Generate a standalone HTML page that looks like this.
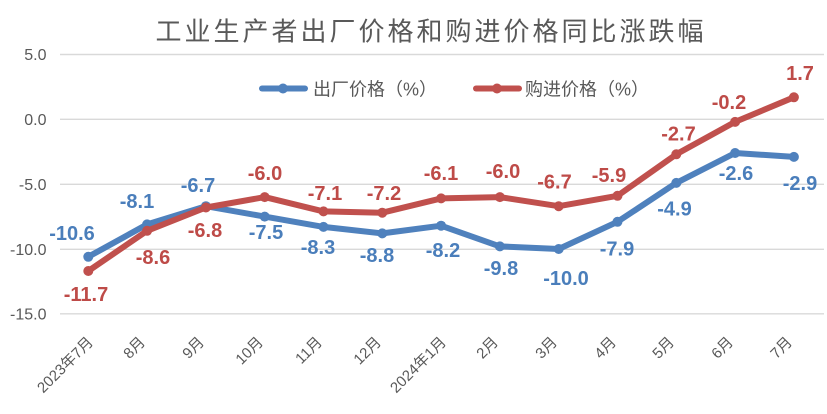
<!DOCTYPE html>
<html>
<head>
<meta charset="utf-8">
<style>
  html, body { margin:0; padding:0; background:#ffffff; }
  body { width:827px; height:414px; overflow:hidden; }
  svg { display:block; }
  .cjk { font-family:"Liberation Sans","Noto Sans CJK SC",sans-serif; }
  .ytick { font-family:"Liberation Sans",sans-serif; font-size:16px; fill:#595959; }
  .xtick { font-family:"Liberation Sans","Noto Sans CJK SC",sans-serif; font-size:15px; fill:#595959; }
  .lb { font-family:"Liberation Sans",sans-serif; font-size:20px; font-weight:bold; text-anchor:middle; }
  .lbb { fill:#4A7EBB; }
  .lbr { fill:#BE4B48; }
</style>
</head>
<body>
<svg width="827" height="414" viewBox="0 0 827 414" xmlns="http://www.w3.org/2000/svg">
  <rect x="0" y="0" width="827" height="414" fill="#ffffff"/>

  <!-- Title -->
  <text x="431" y="40.5" text-anchor="middle" class="cjk" font-size="26" letter-spacing="3" fill="#595959">工业生产者出厂价格和购进价格同比涨跌幅</text>

  <!-- Gridlines -->
  <g stroke="#D9D9D9" stroke-width="1.4">
    <line x1="60" y1="54.5" x2="824" y2="54.5"/>
    <line x1="60" y1="119.3" x2="824" y2="119.3"/>
    <line x1="60" y1="184.3" x2="824" y2="184.3"/>
    <line x1="60" y1="249.3" x2="824" y2="249.3"/>
    <line x1="60" y1="313.8" x2="824" y2="313.8"/>
  </g>

  <!-- Y tick labels -->
  <g class="ytick" text-anchor="end">
    <text x="46.5" y="60">5.0</text>
    <text x="46.5" y="125">0.0</text>
    <text x="46.5" y="190">-5.0</text>
    <text x="46.5" y="255">-10.0</text>
    <text x="46.5" y="319.5">-15.0</text>
  </g>

  <!-- X tick labels -->
  <g class="xtick" text-anchor="end">
    <text transform="translate(94,343) rotate(-45)">2023年7月</text>
    <text transform="translate(146,343) rotate(-45)">8月</text>
    <text transform="translate(205,343) rotate(-45)">9月</text>
    <text transform="translate(264,343) rotate(-45)">10月</text>
    <text transform="translate(323,343) rotate(-45)">11月</text>
    <text transform="translate(382,343) rotate(-45)">12月</text>
    <text transform="translate(447,343) rotate(-45)">2024年1月</text>
    <text transform="translate(499,343) rotate(-45)">2月</text>
    <text transform="translate(558,343) rotate(-45)">3月</text>
    <text transform="translate(617,343) rotate(-45)">4月</text>
    <text transform="translate(675,343) rotate(-45)">5月</text>
    <text transform="translate(734,343) rotate(-45)">6月</text>
    <text transform="translate(793,343) rotate(-45)">7月</text>
  </g>

  <!-- Legend -->
  <line x1="262" y1="88.5" x2="305" y2="88.5" stroke="#4F81BD" stroke-width="6" stroke-linecap="round"/>
  <circle cx="283" cy="88.5" r="5" fill="#4F81BD"/>
  <text x="313" y="95.5" class="cjk" font-size="18" fill="#595959">出厂价格（%）</text>

  <line x1="476" y1="88.5" x2="519" y2="88.5" stroke="#C0504D" stroke-width="6" stroke-linecap="round"/>
  <circle cx="497" cy="88.5" r="5" fill="#C0504D"/>
  <text x="525" y="95.5" class="cjk" font-size="18" fill="#595959">购进价格（%）</text>

  <!-- Blue series -->
  <polyline fill="none" stroke="#4F81BD" stroke-width="6" stroke-linejoin="round" stroke-linecap="round"
    points="88.3,256.8 147.1,224.4 205.9,206.2 264.7,216.6 323.5,226.9 382.3,233.4 441.1,225.7 499.9,246.4 558.7,249.0 617.5,221.8 676.3,182.9 735.1,153.0 793.9,156.9"/>
  <g fill="#4F81BD">
    <circle cx="88.3" cy="256.8" r="5"/>
    <circle cx="147.1" cy="224.4" r="5"/>
    <circle cx="205.9" cy="206.2" r="5"/>
    <circle cx="264.7" cy="216.6" r="5"/>
    <circle cx="323.5" cy="226.9" r="5"/>
    <circle cx="382.3" cy="233.4" r="5"/>
    <circle cx="441.1" cy="225.7" r="5"/>
    <circle cx="499.9" cy="246.4" r="5"/>
    <circle cx="558.7" cy="249.0" r="5"/>
    <circle cx="617.5" cy="221.8" r="5"/>
    <circle cx="676.3" cy="182.9" r="5"/>
    <circle cx="735.1" cy="153.0" r="5"/>
    <circle cx="793.9" cy="156.9" r="5"/>
  </g>

  <!-- Red series -->
  <polyline fill="none" stroke="#C0504D" stroke-width="6" stroke-linejoin="round" stroke-linecap="round"
    points="88.3,271.0 147.1,230.8 205.9,207.5 264.7,197.1 323.5,211.4 382.3,212.7 441.1,198.4 499.9,197.1 558.7,206.2 617.5,195.8 676.3,154.3 735.1,121.9 793.9,97.3"/>
  <g fill="#C0504D">
    <circle cx="88.3" cy="271.0" r="5"/>
    <circle cx="147.1" cy="230.8" r="5"/>
    <circle cx="205.9" cy="207.5" r="5"/>
    <circle cx="264.7" cy="197.1" r="5"/>
    <circle cx="323.5" cy="211.4" r="5"/>
    <circle cx="382.3" cy="212.7" r="5"/>
    <circle cx="441.1" cy="198.4" r="5"/>
    <circle cx="499.9" cy="197.1" r="5"/>
    <circle cx="558.7" cy="206.2" r="5"/>
    <circle cx="617.5" cy="195.8" r="5"/>
    <circle cx="676.3" cy="154.3" r="5"/>
    <circle cx="735.1" cy="121.9" r="5"/>
    <circle cx="793.9" cy="97.3" r="5"/>
  </g>

  <!-- Blue data labels -->
  <g class="lb lbb">
    <text x="72" y="240">-10.6</text>
    <text x="137" y="208">-8.1</text>
    <text x="198" y="192">-6.7</text>
    <text x="266" y="239">-7.5</text>
    <text x="318" y="254">-8.3</text>
    <text x="377" y="262">-8.8</text>
    <text x="443" y="257">-8.2</text>
    <text x="501" y="275">-9.8</text>
    <text x="566" y="285">-10.0</text>
    <text x="617" y="255.5">-7.9</text>
    <text x="674.5" y="215.5">-4.9</text>
    <text x="736" y="180">-2.6</text>
    <text x="800" y="190">-2.9</text>
  </g>

  <!-- Red data labels -->
  <g class="lb lbr">
    <text x="86" y="301">-11.7</text>
    <text x="153" y="264">-8.6</text>
    <text x="205" y="237">-6.8</text>
    <text x="265" y="180">-6.0</text>
    <text x="325" y="200">-7.1</text>
    <text x="384" y="200">-7.2</text>
    <text x="441" y="180">-6.1</text>
    <text x="503" y="178">-6.0</text>
    <text x="554.5" y="188.5">-6.7</text>
    <text x="609" y="182">-5.9</text>
    <text x="678.5" y="140.5">-2.7</text>
    <text x="729" y="109">-0.2</text>
    <text x="800" y="80">1.7</text>
  </g>
</svg>
</body>
</html>
